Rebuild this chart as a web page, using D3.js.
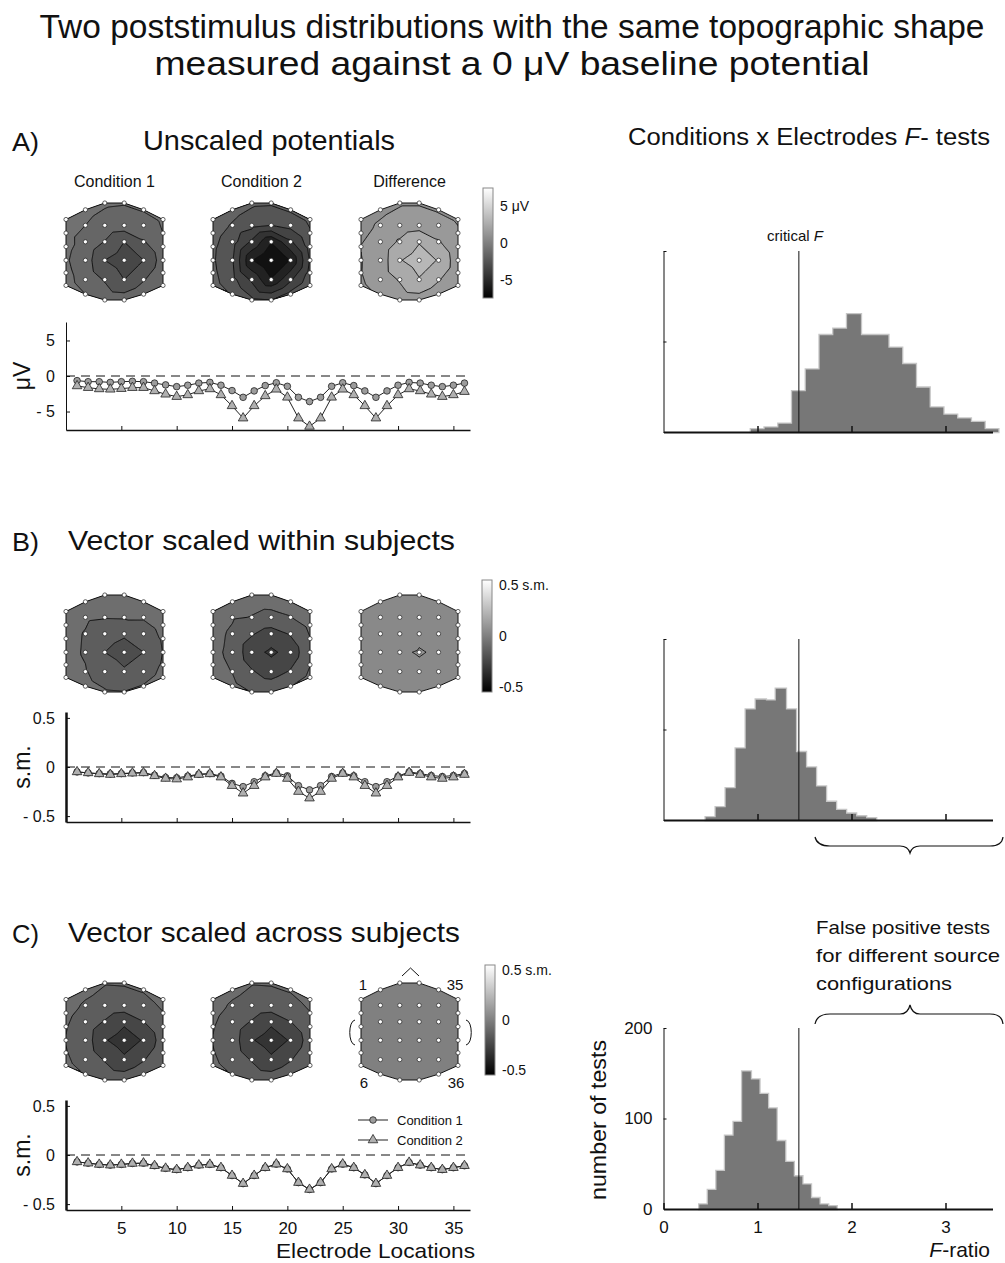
<!DOCTYPE html>
<html>
<head>
<meta charset="utf-8">
<script src="https://cdn.jsdelivr.net/npm/d3@7"></script>
<style>
  body { margin: 0; background: #fff; }
  svg { font-family: "Liberation Sans", Arial, Helvetica, sans-serif; }
  .axis text { font-family: "Liberation Sans", Arial, sans-serif; fill: #111; }
  .axis line, .axis path { stroke: #111; }
</style>
</head>
<body>
<svg id="chart" width="1005" height="1263"></svg>
<script>
// ---- data ----
const electrodes = [1,2,3,4,5,6,7,8,9,10,11,12,13,14,15,16,17,18,19,20,21,22,23,24,25,26,27,28,29,30,31,32,33,34,35,36];
const electrodeTicks = [5,10,15,20,25,30,35];

// A) unscaled potentials (µV)
const condA1 = [-0.65,-0.8,-0.8,-0.9,-0.8,-0.75,-0.8,-1.0,-1.25,-1.5,-1.3,-1.0,-0.9,-1.3,-2.05,-3.0,-2.1,-1.35,
                -0.95,-1.45,-3.0,-3.6,-3.0,-1.45,-0.95,-1.35,-2.1,-3.0,-2.1,-1.3,-0.9,-1.0,-1.3,-1.5,-1.3,-1.0];
const condA2 = [-1.4,-1.64,-1.82,-1.87,-1.78,-1.64,-1.64,-2.1,-2.57,-2.9,-2.66,-2.1,-1.82,-2.66,-4.2,-5.93,-4.2,-2.8,
                -1.87,-3.0,-5.93,-7.1,-5.93,-3.0,-1.87,-2.66,-4.2,-5.93,-4.2,-2.66,-1.82,-2.1,-2.57,-2.9,-2.66,-2.2];
// B) vector scaled within subjects (s.m.)
const condB1 = [-0.05,-0.06,-0.067,-0.07,-0.067,-0.06,-0.057,-0.083,-0.107,-0.11,-0.093,-0.073,-0.067,-0.093,-0.167,-0.2,-0.15,-0.09,
                -0.06,-0.09,-0.19,-0.233,-0.19,-0.097,-0.06,-0.09,-0.15,-0.2,-0.15,-0.093,-0.05,-0.067,-0.087,-0.097,-0.087,-0.067];
const condB2 = [-0.05,-0.06,-0.07,-0.077,-0.07,-0.063,-0.06,-0.09,-0.117,-0.123,-0.103,-0.077,-0.07,-0.103,-0.19,-0.267,-0.19,-0.103,
                -0.067,-0.117,-0.25,-0.317,-0.25,-0.117,-0.067,-0.103,-0.19,-0.267,-0.19,-0.103,-0.057,-0.077,-0.103,-0.117,-0.103,-0.077];
// C) vector scaled across subjects (s.m.)
const condC1 = [-0.07,-0.083,-0.096,-0.103,-0.096,-0.086,-0.083,-0.109,-0.136,-0.149,-0.129,-0.103,-0.096,-0.129,-0.209,-0.291,-0.209,-0.129,
                -0.093,-0.142,-0.281,-0.351,-0.281,-0.142,-0.093,-0.129,-0.202,-0.291,-0.209,-0.129,-0.076,-0.103,-0.129,-0.149,-0.129,-0.109];
const condC2 = [-0.07,-0.083,-0.096,-0.103,-0.096,-0.086,-0.083,-0.109,-0.136,-0.149,-0.129,-0.103,-0.096,-0.129,-0.209,-0.291,-0.209,-0.129,
                -0.093,-0.142,-0.281,-0.351,-0.281,-0.142,-0.093,-0.129,-0.202,-0.291,-0.209,-0.129,-0.076,-0.103,-0.129,-0.149,-0.129,-0.109];

// F-test histograms (number of tests per bin)
const criticalF = 1.44;
const fTicks = [0, 1, 2, 3];
const countTicks = [0, 100, 200];
const histStartA = 0.93, histWidthA = 0.1462;
const histCountsA = [3,5,9,45,69,107,114,130,107,107,93,75,49,27,19,15,11,3];
const histStartB = 0.449, histWidthB = 0.1066;
const histCountsB = [3,14,35,79,122,133,132,145,122,75,58,37,20,11,7,4,2];
const histStartC = 0.381, histWidthC = 0.0913;
const histCountsC = [5,21,42,81,96,152,143,127,111,75,52,36,27,12,5,3];

// ---- drawing ----
const svg = d3.select("#chart");
const ink = "#111";

function txt(x, y, s, size, opts = {}) {
  const t = svg.append("text").attr("x", x).attr("y", y).attr("font-size", size).attr("fill", ink)
    .attr("text-anchor", opts.anchor || "start").text(s);
  if (opts.len) t.attr("textLength", opts.len).attr("lengthAdjust", "spacingAndGlyphs");
  if (opts.rotate) t.attr("transform", `rotate(-90,${x},${y})`);
  return t;
}
function txtItalicF(x, y, before, after, size, opts = {}) {
  const t = svg.append("text").attr("x", x).attr("y", y).attr("font-size", size).attr("fill", ink)
    .attr("text-anchor", opts.anchor || "start");
  t.append("tspan").text(before);
  t.append("tspan").attr("font-style", "italic").text("F");
  t.append("tspan").text(after);
  if (opts.len) t.attr("textLength", opts.len).attr("lengthAdjust", "spacingAndGlyphs");
  return t;
}

// titles
txt(512, 38, "Two poststimulus distributions with the same topographic shape", 33, {anchor: "middle", len: 945});
txt(512, 75, "measured against a 0 μV baseline potential", 33, {anchor: "middle", len: 715});

txt(12, 151, "A)", 26, {len: 27});
txt(143, 150, "Unscaled potentials", 28, {len: 252});
txtItalicF(628, 145, "Conditions x Electrodes ", "- tests", 23, {len: 362});
txt(12, 551, "B)", 26, {len: 27});
txt(68, 550, "Vector scaled within subjects", 28, {len: 387});
txt(12, 943, "C)", 26, {len: 27});
txt(68, 942, "Vector scaled across subjects", 28, {len: 392});

// ---- topographic maps ----
const colX = [0, 20, 40, 60, 80, 100];
const colY = [[17,31,45,59,72,85],[7,23,40,59,79,94],[0,23,40,59,79,100],
              [0,23,40,59,79,100],[7,23,40,59,79,94],[17,31,45,59,72,85]];
const elecPos = electrodes.map((e, i) => [colX[Math.floor(i / 6)], colY[Math.floor(i / 6)][i % 6]]);
const outline = [12,18,24,30,31,32,33,34,35,29,23,17,11,5,4,3,2,1,0,6];
const delaunay = d3.Delaunay.from(elecPos);
const tris = delaunay.triangles;
const GLO = -6, GHI = 106, GN = 113;
const mapS = 97;
const mapX = [66, 213, 361];
let clipId = 0;

function field(vals) {
  const g = new Float64Array(GN * GN);
  for (let j = 0; j < GN; j++) for (let i = 0; i < GN; i++) {
    const px = GLO + (GHI - GLO) * i / (GN - 1), py = GLO + (GHI - GLO) * j / (GN - 1);
    let v = null;
    for (let t = 0; t < tris.length; t += 3) {
      const a = elecPos[tris[t]], b = elecPos[tris[t + 1]], c = elecPos[tris[t + 2]];
      const d = (b[1] - c[1]) * (a[0] - c[0]) + (c[0] - b[0]) * (a[1] - c[1]);
      const l1 = ((b[1] - c[1]) * (px - c[0]) + (c[0] - b[0]) * (py - c[1])) / d;
      const l2 = ((c[1] - a[1]) * (px - c[0]) + (a[0] - c[0]) * (py - c[1])) / d;
      const l3 = 1 - l1 - l2;
      if (l1 >= -1e-9 && l2 >= -1e-9 && l3 >= -1e-9) {
        v = l1 * vals[tris[t]] + l2 * vals[tris[t + 1]] + l3 * vals[tris[t + 2]];
        break;
      }
    }
    if (v === null) v = vals[delaunay.find(px, py)];
    g[j * GN + i] = v;
  }
  return g;
}

function levels(vals, step) {
  const [lo, hi] = d3.extent(vals);
  return d3.range(Math.ceil(lo / step), Math.floor(hi / step) + 1).map(k => +(k * step).toFixed(4))
    .filter(t => t > lo && t < hi);
}

function topo(vals, x0, y0, ths, color) {
  const sx = u => x0 + u * mapS / 100, sy = v => y0 + v * mapS / 100;
  const id = "clip" + (clipId++);
  const head = outline.map(i => [sx(elecPos[i][0]), sy(elecPos[i][1])]);
  svg.append("clipPath").attr("id", id).append("polygon").attr("points", head.join(" "));
  const g = svg.append("g").attr("clip-path", `url(#${id})`);
  const grid = field(vals);
  const ext = d3.extent(vals);
  const th = ths.slice().sort((a, b) => a - b);
  const base = th.length ? color((ext[0] + th[0]) / 2) : color(d3.mean(vals));
  g.append("polygon").attr("points", head.join(" ")).attr("fill", base);
  const proj = d3.geoTransform({ point(gx, gy) {
    const u = GLO + (gx - 0.5) * (GHI - GLO) / (GN - 1);
    const v = GLO + (gy - 0.5) * (GHI - GLO) / (GN - 1);
    this.stream.point(sx(u), sy(v));
  }});
  const path = d3.geoPath(proj);
  if (th.length) {
    const cs = d3.contours().size([GN, GN]).thresholds(th)(grid);
    g.selectAll("path.band").data(cs).enter().append("path")
      .attr("d", path)
      .attr("fill", (d, k) => color((th[k] + (k + 1 < th.length ? th[k + 1] : ext[1])) / 2))
      .attr("stroke", ink).attr("stroke-width", 1);
  }
  svg.append("polygon").attr("points", head.join(" ")).attr("fill", "none")
    .attr("stroke", ink).attr("stroke-width", 1);
  svg.append("g").selectAll("circle").data(elecPos).enter().append("circle")
    .attr("cx", d => sx(d[0])).attr("cy", d => sy(d[1])).attr("r", 2.1)
    .attr("fill", "#fff").attr("stroke", "#222").attr("stroke-width", 0.7);
}

const defs = svg.append("defs");
const grad = defs.append("linearGradient").attr("id", "greyBar").attr("x1", 0).attr("y1", 1).attr("x2", 0).attr("y2", 0);
grad.append("stop").attr("offset", 0).attr("stop-color", "#000");
grad.append("stop").attr("offset", 1).attr("stop-color", "#fff");

function colorbar(x, y0, h, domain, ticks, labels) {
  const s = d3.scaleLinear().domain(domain).range([y0 + h, y0]);
  svg.append("rect").attr("x", x).attr("y", y0).attr("width", 10).attr("height", h)
    .attr("fill", "url(#greyBar)").attr("stroke", "#888").attr("stroke-width", 1);
  ticks.forEach((t, i) => txt(x + 17, s(t) + 5, labels[i], 14));
}

const colA = d3.scaleLinear().domain([-7.5, 7.5]).range(["#000", "#fff"]);
const colSM = d3.scaleLinear().domain([-0.55, 0.55]).range(["#000", "#fff"]);
const diffA = condA1.map((v, i) => v - condA2[i]);
const diffB = condB1.map((v, i) => v - condB2[i]);
const diffC = condC1.map((v, i) => v - condC2[i]);

["Condition 1", "Condition 2", "Difference"].forEach((s, i) => txt(mapX[i] + mapS / 2, 187, s, 16, {anchor: "middle"}));
topo(condA1, mapX[0], 203, levels(condA1, 1), colA);
topo(condA2, mapX[1], 203, levels(condA2, 1), colA);
topo(diffA, mapX[2], 203, levels(diffA, 1), colA);
colorbar(483, 188, 110, [-7.5, 7.5], [5, 0, -5], ["5 μV", "0", "-5"]);

topo(condB1, mapX[0], 595, levels(condB1, 0.1), colSM);
topo(condB2, mapX[1], 595, levels(condB2, 0.1), colSM);
topo(diffB, mapX[2], 595, [0.078], colSM);
colorbar(482, 580, 112, [-0.55, 0.55], [0.5, 0, -0.5], ["0.5 s.m.", "0", "-0.5"]);

topo(condC1, mapX[0], 983, levels(condC1, 0.1), colSM);
topo(condC2, mapX[1], 983, levels(condC2, 0.1), colSM);
topo(diffC, mapX[2], 983, levels(diffC, 0.1), colSM);
colorbar(485, 965, 110, [-0.55, 0.55], [0.5, 0, -0.5], ["0.5 s.m.", "0", "-0.5"]);

// orientation marks on C difference map
{
  const x0 = mapX[2], y0 = 983, r = x0 + mapS;
  svg.append("path").attr("d", `M${x0 + 41},${y0 - 7} L${x0 + 49.5},${y0 - 15} L${x0 + 58},${y0 - 7}`)
    .attr("fill", "none").attr("stroke", ink).attr("stroke-width", 1);
  svg.append("path").attr("d", `M${x0 - 6},${y0 + 37} C${x0 - 13},${y0 + 38} ${x0 - 13},${y0 + 61} ${x0 - 6},${y0 + 62}`)
    .attr("fill", "none").attr("stroke", ink).attr("stroke-width", 1);
  svg.append("path").attr("d", `M${r + 8},${y0 + 37} C${r + 15},${y0 + 38} ${r + 15},${y0 + 61} ${r + 8},${y0 + 62}`)
    .attr("fill", "none").attr("stroke", ink).attr("stroke-width", 1);
  txt(x0 + 2, y0 + 7, "1", 15, {anchor: "middle"});
  txt(x0 + 94, y0 + 7, "35", 15, {anchor: "middle"});
  txt(x0 + 3, y0 + 105, "6", 15, {anchor: "middle"});
  txt(x0 + 95, y0 + 105, "36", 15, {anchor: "middle"});
}

// ---- electrode line charts ----
const fmtMinus = d => d < 0 ? "- " + Math.abs(d) : String(d);
const xE = d3.scaleLinear().domain([0, 36.5]).range([66, 470]);
const triSym = d3.symbol().type(d3.symbolTriangle).size(40);

function lineChart(c) {
  const y = d3.scaleLinear().domain(c.domain).range([c.bottom, c.top]);
  const g = svg.append("g");
  g.append("line").attr("x1", xE(0)).attr("x2", xE(36.5)).attr("y1", y(0)).attr("y2", y(0))
    .attr("stroke", ink).attr("stroke-dasharray", "9,6");
  const ya = g.append("g").attr("class", "axis").attr("transform", `translate(${xE(0)},0)`)
    .call(d3.axisLeft(y).tickValues(c.ticks).tickSize(-4).tickSizeOuter(0).tickPadding(11).tickFormat(fmtMinus));
  ya.selectAll("text").attr("font-size", 16);
  if (c.greyAxis) ya.select(".domain").attr("stroke", "#aaa").attr("stroke-width", 2.5);
  const xa = g.append("g").attr("class", "axis").attr("transform", `translate(0,${c.bottom})`)
    .call(d3.axisBottom(xE).tickValues(electrodeTicks).tickSize(-4).tickSizeOuter(0).tickPadding(12)
      .tickFormat(c.xLabels ? d3.format("d") : ""));
  xa.select(".domain").attr("stroke-width", 1.5);
  xa.selectAll("text").attr("font-size", 17);
  const line = d3.line().x((d, i) => xE(electrodes[i])).y(d => y(d));
  g.append("path").datum(c.v1).attr("d", line).attr("fill", "none").attr("stroke", "#222").attr("stroke-width", 1);
  g.append("path").datum(c.v2).attr("d", line).attr("fill", "none").attr("stroke", "#222").attr("stroke-width", 1);
  g.selectAll("circle").data(c.v1).enter().append("circle")
    .attr("cx", (d, i) => xE(electrodes[i])).attr("cy", d => y(d)).attr("r", 3.3)
    .attr("fill", "#9c9c9c").attr("stroke", "#222").attr("stroke-width", 0.8);
  g.selectAll("path.tri").data(c.v2).enter().append("path").attr("class", "tri")
    .attr("d", triSym).attr("transform", (d, i) => `translate(${xE(electrodes[i])},${y(d)})`)
    .attr("fill", "#b0b0b0").attr("stroke", "#222").attr("stroke-width", 0.8);
  txt(30, (c.top + c.bottom) / 2, c.unit, 23, {anchor: "middle", rotate: true});
}

lineChart({v1: condA1, v2: condA2, domain: [-7.6, 7.6], top: 322, bottom: 430, ticks: [-5, 0, 5], unit: "μV"});
lineChart({v1: condB1, v2: condB2, domain: [-0.56, 0.56], top: 712, bottom: 822, ticks: [-0.5, 0, 0.5], unit: "s.m.", greyAxis: true});
lineChart({v1: condC1, v2: condC2, domain: [-0.56, 0.56], top: 1100, bottom: 1210, ticks: [-0.5, 0, 0.5], unit: "s.m.", greyAxis: true, xLabels: true});
txt(475, 1258, "Electrode Locations", 21, {anchor: "end", len: 199});

// legend (panel C)
[["Condition 1", 1120, "c"], ["Condition 2", 1140, "t"]].forEach(([lab, ly, m]) => {
  svg.append("line").attr("x1", 358).attr("x2", 388).attr("y1", ly).attr("y2", ly).attr("stroke", "#222");
  if (m === "c") svg.append("circle").attr("cx", 373).attr("cy", ly).attr("r", 3.3)
    .attr("fill", "#9c9c9c").attr("stroke", "#222").attr("stroke-width", 0.8);
  else svg.append("path").attr("d", triSym).attr("transform", `translate(373,${ly})`)
    .attr("fill", "#b0b0b0").attr("stroke", "#222").attr("stroke-width", 0.8);
  txt(397, ly + 5, lab, 13);
});

// ---- F-ratio histograms ----
const xF = d3.scaleLinear().domain([0, 3.5]).range([663.5, 992.5]);

function histogram(h) {
  const y = d3.scaleLinear().domain([0, 200]).range([h.base, h.base - 181]);
  // step outline: one point per bin edge
  const steps = h.counts.map((n, i) => ({f: h.start + i * h.width, n}));
  steps.push({f: h.start + h.counts.length * h.width, n: h.counts[h.counts.length - 1]});
  const area = d3.area().curve(d3.curveStepAfter).x(d => xF(d.f)).y0(y(0)).y1(d => y(d.n));
  const g = svg.append("g");
  g.append("path").datum(steps).attr("d", area)
    .attr("fill", "#777").attr("stroke", "#c6c6c6").attr("stroke-width", 2.6)
    .attr("paint-order", "stroke");
  g.append("line").attr("x1", xF(criticalF)).attr("x2", xF(criticalF)).attr("y1", y(0)).attr("y2", y(200))
    .attr("stroke", ink).attr("stroke-width", 1);
  const xa = g.append("g").attr("class", "axis").attr("transform", `translate(0,${y(0)})`)
    .call(d3.axisBottom(xF).tickValues(h.labels ? fTicks : fTicks.slice(1)).tickSize(-6).tickSizeOuter(0).tickPadding(12)
      .tickFormat(h.labels ? d3.format("d") : ""));
  xa.select(".domain").attr("stroke-width", 2);
  xa.selectAll(".tick line").attr("stroke-width", 1.5);
  xa.selectAll("text").attr("font-size", 17);
  const ya = g.append("g").attr("class", "axis").attr("transform", `translate(${xF(0)},0)`)
    .call(d3.axisLeft(y).tickValues(countTicks).tickSize(-3).tickSizeOuter(0).tickPadding(11)
      .tickFormat(h.labels ? d3.format("d") : ""));
  ya.selectAll("text").attr("font-size", 17);
}

histogram({base: 432, start: histStartA, width: histWidthA, counts: histCountsA});
histogram({base: 820, start: histStartB, width: histWidthB, counts: histCountsB});
histogram({base: 1209, start: histStartC, width: histWidthC, counts: histCountsC, labels: true});

txtItalicF(795, 241, "critical ", "", 15, {anchor: "middle"});
txt(606, 1120, "number of tests", 22, {anchor: "middle", rotate: true, len: 160});
txtItalicF(990, 1257, "", "-ratio", 21, {anchor: "end"});

txt(816, 934, "False positive tests", 19, {len: 174});
txt(816, 962, "for different source", 19, {len: 184});
txt(816, 990, "configurations", 19, {len: 136});

// braces
svg.append("path")
  .attr("d", "M815,837 Q817,846 830,846 L900,846 Q908,846 910,853 Q912,846 920,846 L990,846 Q1002,846 1003,837")
  .attr("fill", "none").attr("stroke", ink).attr("stroke-width", 1.2);
svg.append("path")
  .attr("d", "M815,1024 Q817,1014 830,1014 L900,1014 Q908,1014 910,1005 Q912,1014 920,1014 L990,1014 Q1002,1014 1003,1024")
  .attr("fill", "none").attr("stroke", ink).attr("stroke-width", 1.2);
</script>
</body>
</html>
